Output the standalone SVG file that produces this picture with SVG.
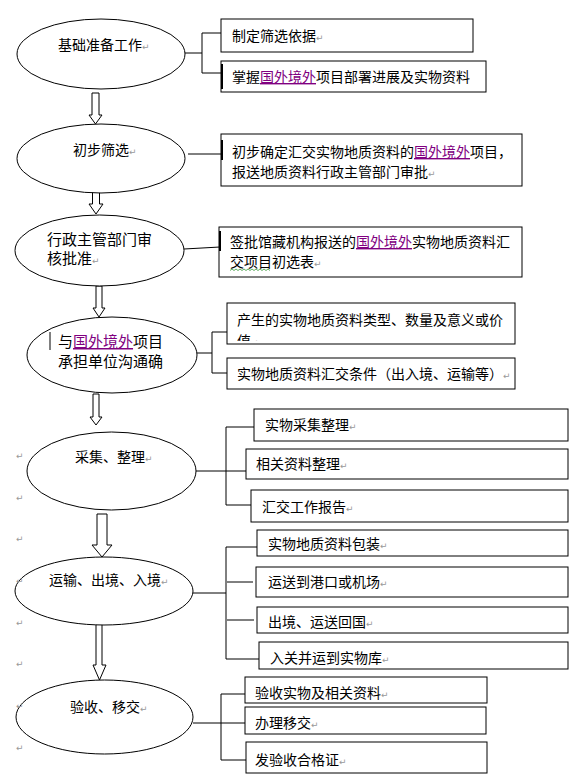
<svg xmlns="http://www.w3.org/2000/svg" width="585" height="777" viewBox="0 0 585 777">
<style>
.n{fill:#fff;stroke:#000;stroke-width:1}
.t{font-family:"Noto Sans CJK SC","Noto Sans CJK JP",sans-serif;font-size:14px;fill:#000}
.t15{font-size:15px}
.p{fill:#800080;text-decoration:underline}
.rm{font-family:"DejaVu Sans",sans-serif;font-size:9px;fill:#999}
.c{fill:none;stroke:#000;stroke-width:1}
.ar{fill:#fff;stroke:#000;stroke-width:1}
</style>
<defs>
<clipPath id="clip5"><rect x="227" y="303" width="288" height="38"/></clipPath>
</defs>
<rect width="585" height="777" fill="#fff"/>

<g id="connectors">
<path class="c" d="M185 53H202M202 33V73M202 33H221M202 73H221"/>
<path class="c" d="M188 154H221" stroke="#444"/>
<path class="c" d="M184 249L220 247"/>
<path class="c" d="M197 353H212M212 332V373M212 332H227M212 373H227"/>
<path class="c" d="M196 471H246M226 427V505M226 427H254M226 505H251"/>
<path class="c" d="M193 593H226M226 547V659M226 547H257M227 582H253M227 620H254M226 659H259"/>
<path class="c" d="M193 723H245M221 694V760M221 694H245M221 760H246"/>
<path class="ar" d="M92 93H99V115H102L95.5 124L89 115H92Z"/>
<path class="ar" d="M92.5 187H99.5V204H103L96 214L89 204H92.5Z"/>
<path class="ar" d="M96 286H102V308H105L99 317L93 308H96Z"/>
<path class="ar" d="M93 394H99V417H102L96 425L90 417H93Z"/>
<path class="ar" d="M97 514H107V545H112L102 557L92 545H97Z"/>
<path class="ar" d="M96 618H102V665H106L99.5 680L93 665H96Z"/>
</g>

<g id="n1">
<ellipse class="n" cx="101" cy="54" rx="84" ry="35"/>
<text class="t" x="58" y="50">基础准备工作<tspan class="rm">↵</tspan></text>
</g>
<g id="b1">
<rect class="n" x="221" y="19" width="252" height="33"/>
<text class="t" x="232" y="41">制定筛选依据<tspan class="rm">↵</tspan></text>
</g>
<g id="b2">
<rect class="n" x="221" y="61" width="265" height="31"/>
<line x1="222" y1="64" x2="222" y2="89" stroke="#000" stroke-width="2"/>
<text class="t" x="232" y="82">掌握<tspan class="p">国外境外</tspan>项目部署进展及实物资料</text>
</g>

<g id="n2">
<ellipse class="n" cx="101" cy="158.5" rx="84" ry="34.5"/>
<text class="t" x="73" y="155">初步筛选<tspan class="rm">↵</tspan></text>
</g>
<g id="b3">
<rect class="n" x="221" y="134" width="301" height="52"/>
<line x1="222" y1="140" x2="222" y2="160" stroke="#000" stroke-width="2"/>
<text class="t" x="232" y="157">初步确定汇交实物地质资料的<tspan class="p">国外境外</tspan>项目，</text>
<text class="t" x="232" y="177">报送地质资料行政主管部门审批<tspan class="rm">↵</tspan></text>
</g>

<g id="n3">
<ellipse class="n" cx="99.5" cy="250.5" rx="84.5" ry="35.5"/>
<text class="t t15" x="47" y="245">行政主管部门审</text>
<text class="t t15" x="47" y="264">核批准<tspan class="rm">↵</tspan></text>
</g>
<g id="b4">
<rect class="n" x="219" y="227" width="303" height="50"/>
<line x1="220" y1="231" x2="220" y2="251" stroke="#000" stroke-width="2"/>
<text class="t" x="230" y="247">签批馆藏机构报送的<tspan class="p">国外境外</tspan>实物地质资料汇</text>
<text class="t" x="230" y="267">交项目初选表<tspan class="rm">↵</tspan></text>
<path d="M230 270.5l2 -1.5l2 1.5l2 -1.5l2 1.5l2 -1.5l2 1.5l2 -1.5l2 1.5l2 -1.5l2 1.5l2 -1.5l2 1.5l2 -1.5l2 1.5l2 -1.5l2 1.5l2 -1.5l2 1.5l2 -1.5l2 1.5" fill="none" stroke="#3a9a3a" stroke-width="0.8"/>
</g>

<g id="n4">
<ellipse class="n" cx="112" cy="355" rx="85" ry="38"/>
<line x1="50" y1="332" x2="50" y2="350" stroke="#000" stroke-width="1"/>
<text class="t t15" x="58" y="347">与<tspan class="p">国外境外</tspan>项目</text>
<text class="t t15" x="58" y="367">承担单位沟通确</text>
</g>
<g id="b5">
<rect class="n" x="227" y="303" width="288" height="41"/>
<text class="t" x="237" y="325">产生的实物地质资料类型、数量及意义或价</text>
<text class="t" x="237" y="346" clip-path="url(#clip5)">值<tspan class="rm">↵</tspan></text>
</g>
<g id="b6">
<rect class="n" x="227" y="358" width="288" height="31"/>
<text class="t" x="237" y="379">实物地质资料汇交条件（出入境、运输等）<tspan class="rm">↵</tspan></text>
</g>

<g id="n5">
<ellipse class="n" cx="111.5" cy="471" rx="84.5" ry="39"/>
<text class="t" x="75" y="462">采集、整理<tspan class="rm">↵</tspan></text>
</g>
<g id="b7">
<rect class="n" x="254" y="409" width="314" height="32"/>
<text class="t" x="265" y="430">实物采集整理<tspan class="rm">↵</tspan></text>
</g>
<g id="b8">
<rect class="n" x="246" y="449" width="322" height="30"/>
<text class="t" x="256" y="469">相关资料整理<tspan class="rm">↵</tspan></text>
</g>
<g id="b9">
<rect class="n" x="251" y="490" width="317" height="32"/>
<text class="t" x="262" y="512">汇交工作报告<tspan class="rm">↵</tspan></text>
</g>

<g id="n6">
<ellipse class="n" cx="104" cy="591" rx="89" ry="34"/>
<text class="t" x="49" y="585">运输、出境、入境<tspan class="rm">↵</tspan></text>
</g>
<g id="b10">
<rect class="n" x="257" y="530" width="311" height="26"/>
<text class="t" x="268" y="549">实物地质资料包装<tspan class="rm">↵</tspan></text>
</g>
<g id="b11">
<rect class="n" x="256" y="567" width="312" height="30"/>
<text class="t" x="268" y="587">运送到港口或机场<tspan class="rm">↵</tspan></text>
</g>
<g id="b12">
<rect class="n" x="257" y="607" width="311" height="26"/>
<text class="t" x="268" y="627">出境、运送回国<tspan class="rm">↵</tspan></text>
</g>
<g id="b13">
<rect class="n" x="259" y="642" width="309" height="27"/>
<text class="t" x="270" y="663">入关并运到实物库<tspan class="rm">↵</tspan></text>
</g>

<g id="n7">
<ellipse class="n" cx="104.5" cy="717" rx="88.5" ry="37"/>
<text class="t" x="70" y="712">验收、移交<tspan class="rm">↵</tspan></text>
</g>
<g id="b14">
<rect class="n" x="245" y="677" width="242" height="26"/>
<text class="t" x="255" y="698">验收实物及相关资料<tspan class="rm">↵</tspan></text>
</g>
<g id="b15">
<rect class="n" x="245" y="707" width="241" height="27"/>
<text class="t" x="255" y="728">办理移交<tspan class="rm">↵</tspan></text>
</g>
<g id="b16">
<rect class="n" x="246" y="742" width="241" height="31"/>
<text class="t" x="255" y="765">发验收合格证<tspan class="rm">↵</tspan></text>
</g>

<g id="marks">
<text class="rm" x="16" y="459">↵</text>
<text class="rm" x="16" y="501">↵</text>
<text class="rm" x="16" y="542">↵</text>
<text class="rm" x="16" y="584">↵</text>
<text class="rm" x="16" y="626">↵</text>
<text class="rm" x="16" y="667">↵</text>
<text class="rm" x="16" y="709">↵</text>
<text class="rm" x="16" y="751">↵</text>
</g>
</svg>
